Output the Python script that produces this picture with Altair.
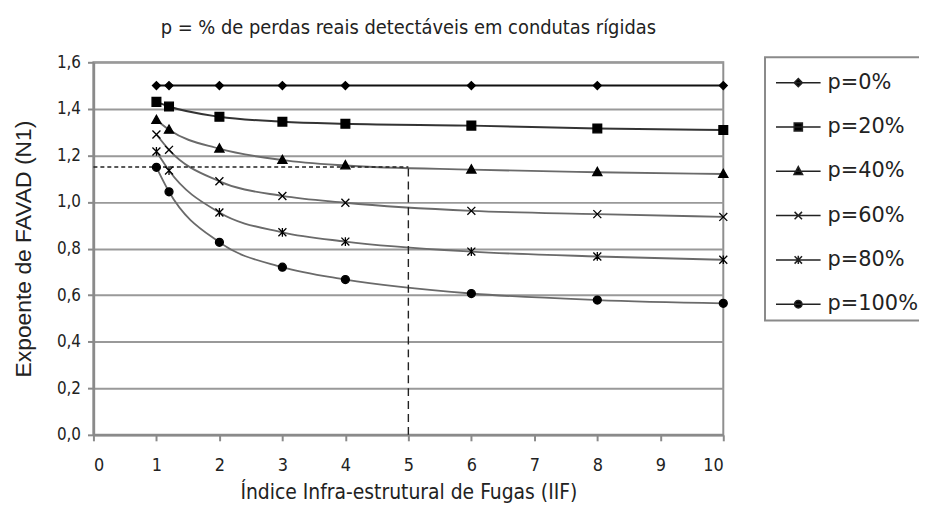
import altair as alt
import pandas as pd

# ---- data ----
series = ["p=0%", "p=20%", "p=40%", "p=60%", "p=80%", "p=100%"]
iif = [1, 1.2, 2, 3, 4, 6, 8, 10]
n1_p0 = [1.50, 1.50, 1.50, 1.50, 1.50, 1.50, 1.50, 1.50]
n1_p20 = [1.43, 1.41, 1.366, 1.345, 1.336, 1.328, 1.316, 1.309]
n1_p40 = [1.352, 1.31, 1.229, 1.18, 1.157, 1.139, 1.128, 1.12]
n1_p60 = [1.29, 1.224, 1.089, 1.026, 0.997, 0.962, 0.948, 0.936]
n1_p80 = [1.217, 1.135, 0.955, 0.87, 0.83, 0.787, 0.766, 0.752]
n1_p100 = [1.149, 1.044, 0.827, 0.72, 0.667, 0.607, 0.579, 0.565]
x_ticks = [0, 1, 2, 3, 4, 5, 6, 7, 8, 9, 10]
y_ticks = [0.0, 0.2, 0.4, 0.6, 0.8, 1.0, 1.2, 1.4, 1.6]
ref_iif = 5
ref_n1 = 1.15

# ---- styles ----
COND = "DejaVu Sans Condensed"
line_colors = ["#111111", "#333333", "#6a6a6a", "#6a6a6a", "#6a6a6a", "#6a6a6a"]
line_widths = [2.0, 1.8, 1.1, 1.1, 1.1, 1.1]
marker_paths = [
    "M0,-1L1,0L0,1L-1,0Z",
    "M-1.1,-1.1H1.1V1.1H-1.1Z",
    "M0,-1.2L1.15,0.85H-1.15Z",
    "M-1,-1L1,1M-1,1L1,-1",
    "M-1,-1L1,1M-1,1L1,-1M0,-1.1V1.1",
    "M1,0A1,1,0,1,1,-1,0A1,1,0,1,1,1,0Z",
]
legend_paths = [
    "M-1.2,0H1.2M0,-0.22L0.22,0L0,0.22L-0.22,0Z",
    "M-1.2,0H1.2M-0.22,-0.22H0.22V0.22H-0.22Z",
    "M-1.2,0H1.2M0,-0.25L0.23,0.17H-0.23Z",
    "M-1.2,0H1.2M-0.2,-0.2L0.2,0.2M-0.2,0.2L0.2,-0.2",
    "M-1.2,0H1.2M-0.2,-0.2L0.2,0.2M-0.2,0.2L0.2,-0.2M0,-0.22V0.22",
    "M-1.2,0H1.2M0.2,0A0.2,0.2,0,1,1,-0.2,0A0.2,0.2,0,1,1,0.2,0Z",
]

values = [n1_p0, n1_p20, n1_p40, n1_p60, n1_p80, n1_p100]
rows = []
for s, vals in zip(series, values):
    for xv, yv in zip(iif, vals):
        rows.append({"serie": s, "IIF": xv, "N1": yv})
df = pd.DataFrame(rows)

label_expr = "replace(format(datum.value, '.1f'), '.', ',')"

x_enc = alt.X(
    "IIF:Q",
    scale=alt.Scale(domain=[0, 10], nice=False),
    axis=alt.Axis(values=x_ticks, title="Índice Infra-estrutural de Fugas (IIF)",
                  grid=False, format="d", labelFontSize=18, titleFontSize=21,
                  labelPadding=16, titlePadding=7, titleFont=COND),
)
y_enc = alt.Y(
    "N1:Q",
    scale=alt.Scale(domain=[0, 1.6], nice=False),
    axis=alt.Axis(values=y_ticks, title="Expoente de FAVAD (N1)", grid=True,
                  labelExpr=label_expr, labelFontSize=17, titleFontSize=23,
                  labelPadding=7, titlePadding=21, titleFont="Liberation Sans"),
)

base = alt.Chart(df)

lines = base.mark_line(interpolate="monotone").encode(
    x=x_enc,
    y=y_enc,
    color=alt.Color("serie:N", scale=alt.Scale(domain=series, range=line_colors), legend=None),
    strokeWidth=alt.StrokeWidth("serie:O", sort=series,
                                scale=alt.Scale(domain=series, range=line_widths), legend=None),
    detail="serie:N",
)

points = base.mark_point(fill="black", stroke="black", strokeWidth=1.3, opacity=1, size=64).encode(
    x="IIF:Q",
    y="N1:Q",
    shape=alt.Shape("serie:N", scale=alt.Scale(domain=series, range=marker_paths), legend=None),
)

leg = alt.Legend(
    title=None, orient="none", legendX=676, legendY=-5, padding=6,
    strokeColor="#8a8a8a", symbolOffset=8, labelOffset=10,
    rowPadding=14.6, labelFontSize=21, labelFont="DejaVu Sans", labelColor="#222222",
    symbolSize=1400, symbolStrokeWidth=1.5,
)
legend_layer = base.transform_filter("false").mark_point(
    color="#222222", fill="black", opacity=1
).encode(
    x="IIF:Q",
    y="N1:Q",
    shape=alt.Shape("serie:N", scale=alt.Scale(domain=series, range=legend_paths), legend=leg),
)

ref_df = pd.DataFrame({"x0": [0], "x1": [ref_iif], "y0": [0], "y1": [ref_n1]})
ref_h = alt.Chart(ref_df).mark_rule(stroke="#222222", strokeWidth=1.6, strokeDash=[4, 3]).encode(
    x="x0:Q", x2="x1:Q", y="y1:Q"
)
ref_v = alt.Chart(ref_df).mark_rule(stroke="#222222", strokeWidth=1.4, strokeDash=[8, 5]).encode(
    x="x1:Q", y="y0:Q", y2="y1:Q"
)

chart = (
    alt.layer(lines, ref_h, ref_v, points, legend_layer)
    .resolve_scale(shape="independent")
    .properties(
        width=634,
        height=375,
        padding={"left": 86, "top": 53, "right": 197, "bottom": 75},
        autosize=alt.AutoSizeParams(type="none"),
        title=alt.Title("p = % de perdas reais detectáveis em condutas rígidas",
                        fontSize=20, font=COND, fontWeight="normal",
                        color="#222222", offset=15),
    )
    .configure_view(stroke="#8f8f8f", strokeWidth=2)
    .configure_legend(strokeWidth=2)
    .configure_axis(
        labelFont=COND, labelColor="#222222",
        titleFontWeight="normal", titleColor="#222222",
        domainColor="#8a8a8a", domainWidth=2.5, tickColor="#8a8a8a", tickWidth=2, tickSize=6,
        gridColor="#999999", gridWidth=2,
    )
)

chart.save("out.html", embed_options={"renderer": "svg", "actions": False})
